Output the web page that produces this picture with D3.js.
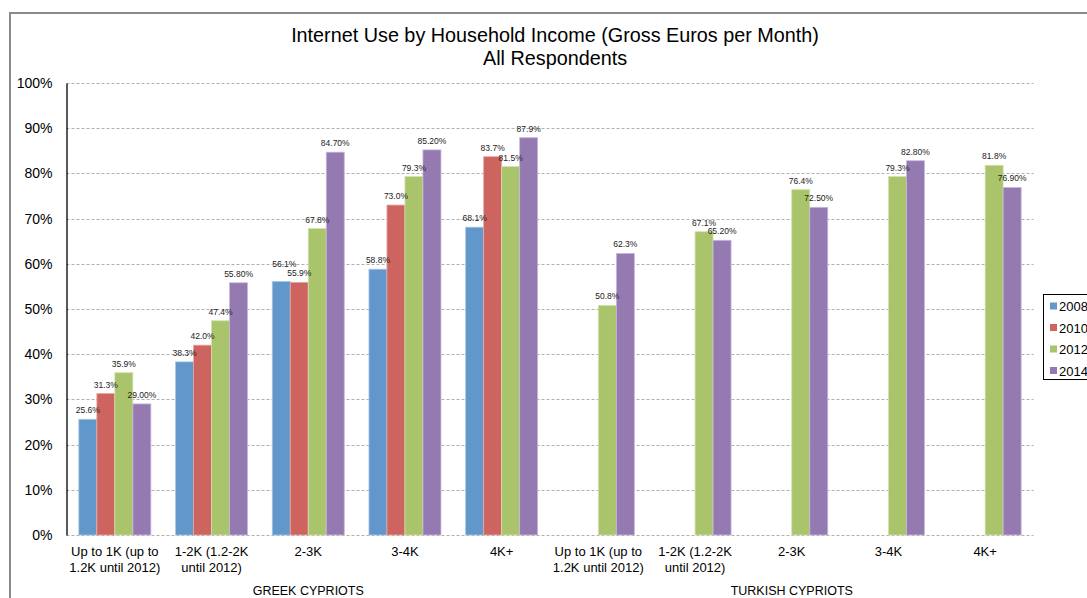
<!DOCTYPE html>
<html>
<head>
<meta charset="utf-8">
<script src="https://cdn.jsdelivr.net/npm/d3@7"></script>
<style>
  html, body { margin: 0; padding: 0; background: #fff; }
  svg { display: block; font-family: "Liberation Sans", Arial, sans-serif; }
</style>
</head>
<body>
<svg id="chart" width="1087" height="598"></svg>
<script>
// Income bands, repeated for each community
const categories = [
  "Up to 1K (up to\n1.2K until 2012)", "1-2K (1.2-2K\nuntil 2012)", "2-3K", "3-4K", "4K+",
  "Up to 1K (up to\n1.2K until 2012)", "1-2K (1.2-2K\nuntil 2012)", "2-3K", "3-4K", "4K+"
];
const groups = ["GREEK CYPRIOTS", "TURKISH CYPRIOTS"];
const years = ["2008", "2010", "2012", "2014"];

// Share of respondents using the internet (%), null where not surveyed
const v2008 = [25.6, 38.3, 56.1, 58.8, 68.1, null, null, null, null, null];
const v2010 = [31.3, 42.0, 55.9, 73.0, 83.7, null, null, null, null, null];
const v2012 = [35.9, 47.4, 67.8, 79.3, 81.5, 50.8, 67.1, 76.4, 79.3, 81.8];
const v2014 = [29.0, 55.8, 84.7, 85.2, 87.9, 62.3, 65.2, 72.5, 82.8, 76.9];

// Decimal places shown in each value label
const dec2008 = [1, 1, 1, 1, 1, 1, 1, 1, 1, 1];
const dec2010 = [1, 1, 1, 1, 1, 1, 1, 1, 1, 1];
const dec2012 = [1, 1, 1, 1, 1, 1, 1, 1, 1, 1];
const dec2014 = [2, 2, 2, 2, 1, 1, 2, 2, 2, 2];

const yTicks = [0, 10, 20, 30, 40, 50, 60, 70, 80, 90, 100];

const seriesValues = [v2008, v2010, v2012, v2014];
const seriesDecimals = [dec2008, dec2010, dec2012, dec2014];
const colors = ["#6197cb", "#ce645f", "#a9c46a", "#957ab1"];
const strokes = ["#a9c6e6", "#e6a9a6", "#d2e2b0", "#c7b8da"];

const svg = d3.select("#chart");

// Outer chart frame (continues past the right edge)
svg.append("rect")
  .attr("x", 10).attr("y", 13)
  .attr("width", 1100).attr("height", 620)
  .attr("fill", "#fff").attr("stroke", "#8a8a8a").attr("stroke-width", 2);

const plot = { left: 66.5, right: 1033.5, top: 83, bottom: 535 };

const x0 = d3.scaleBand()
  .domain(d3.range(categories.length))
  .range([plot.left, plot.right])
  .padding(0);

const x1 = d3.scaleBand()
  .domain(years)
  .range([x0.bandwidth() * 0.1277, x0.bandwidth() * 0.8723])
  .padding(0);

const y = d3.scaleLinear().domain([0, 100]).range([plot.bottom, plot.top]);

// Title
const title = svg.append("text")
  .attr("text-anchor", "middle")
  .attr("font-size", 19.8)
  .attr("fill", "#000");
title.append("tspan").attr("x", 555).attr("y", 42)
  .text("Internet Use by Household Income (Gross Euros per Month)");
title.append("tspan").attr("x", 555).attr("y", 65)
  .text("All Respondents");

// Dashed horizontal gridlines
svg.append("g")
  .selectAll("line")
  .data(yTicks)
  .join("line")
  .attr("x1", plot.left).attr("x2", plot.right)
  .attr("y1", d => Math.round(y(d)) + 0.5).attr("y2", d => Math.round(y(d)) + 0.5)
  .attr("stroke", "#b0b0b0")
  .attr("stroke-width", 1)
  .attr("stroke-dasharray", "3,2");

// Bars
const bars = svg.append("g");
seriesValues.forEach((vals, s) => {
  bars.selectAll(null)
    .data(vals.map((v, i) => ({ v, i })).filter(d => d.v !== null))
    .join("rect")
    .attr("x", d => x0(d.i) + x1(years[s]))
    .attr("width", x1.bandwidth())
    .attr("y", d => y(d.v))
    .attr("height", d => y(0) - y(d.v))
    .attr("fill", colors[s])
    .attr("stroke", strokes[s])
    .attr("stroke-width", 0.8);
});

// Value labels above the bars
const labelNudge = { "0-2": [3, -8] }; // series-category pairs moved to avoid overlap
const labels = svg.append("g")
  .attr("font-size", 8.5)
  .attr("fill", "#222")
  .attr("text-anchor", "middle");
seriesValues.forEach((vals, s) => {
  labels.selectAll(null)
    .data(vals.map((v, i) => ({ v, i })).filter(d => d.v !== null))
    .join("text")
    .attr("x", d => x0(d.i) + x1(years[s]) + x1.bandwidth() / 2 + ((labelNudge[s + "-" + d.i] || [0, 0])[0]))
    .attr("y", d => y(d.v) - 6 + ((labelNudge[s + "-" + d.i] || [0, 0])[1]))
    .text(d => d.v.toFixed(seriesDecimals[s][d.i]) + "%");
});

// Y axis
const yAxis = svg.append("g")
  .attr("transform", `translate(${plot.left},0)`)
  .call(d3.axisLeft(y).tickValues(yTicks).tickSize(0).tickPadding(14)
    .tickFormat(d => d + "%"));
yAxis.select(".domain").attr("stroke", "#000").attr("stroke-width", 1.3);
yAxis.selectAll("text")
  .attr("font-size", 14)
  .attr("fill", "#000")
  .attr("font-family", "'Liberation Sans', Arial, sans-serif");

// Category labels (two lines where wrapped)
const catG = svg.append("g")
  .attr("font-size", 13)
  .attr("fill", "#000")
  .attr("text-anchor", "middle");
categories.forEach((c, i) => {
  const t = catG.append("text");
  c.split("\n").forEach((line, k) => {
    t.append("tspan")
      .attr("x", x0(i) + x0.bandwidth() / 2)
      .attr("y", 556 + k * 16)
      .text(line);
  });
});

// Community labels beneath each half
const half = categories.length / groups.length;
svg.append("g")
  .attr("font-size", 12.5)
  .attr("fill", "#000")
  .attr("text-anchor", "middle")
  .selectAll("text")
  .data(groups)
  .join("text")
  .attr("x", (d, g) => (x0(g * half) + x0((g + 1) * half - 1) + x0.bandwidth()) / 2)
  .attr("y", 595)
  .text(d => d);

// Legend
const legend = svg.append("g").attr("transform", "translate(1043,294)");
legend.append("rect")
  .attr("x", 0.5).attr("y", 0.5)
  .attr("width", 100).attr("height", 85)
  .attr("fill", "#fff").attr("stroke", "#000").attr("stroke-width", 1);
years.forEach((yr, s) => {
  const row = legend.append("g").attr("transform", `translate(0,${12 + s * 21.5})`);
  row.append("rect")
    .attr("x", 7).attr("y", -3.5)
    .attr("width", 7).attr("height", 7)
    .attr("fill", colors[s]);
  row.append("text")
    .attr("x", 16).attr("y", 5)
    .attr("font-size", 13)
    .attr("fill", "#000")
    .text(yr);
});
</script>
</body>
</html>
